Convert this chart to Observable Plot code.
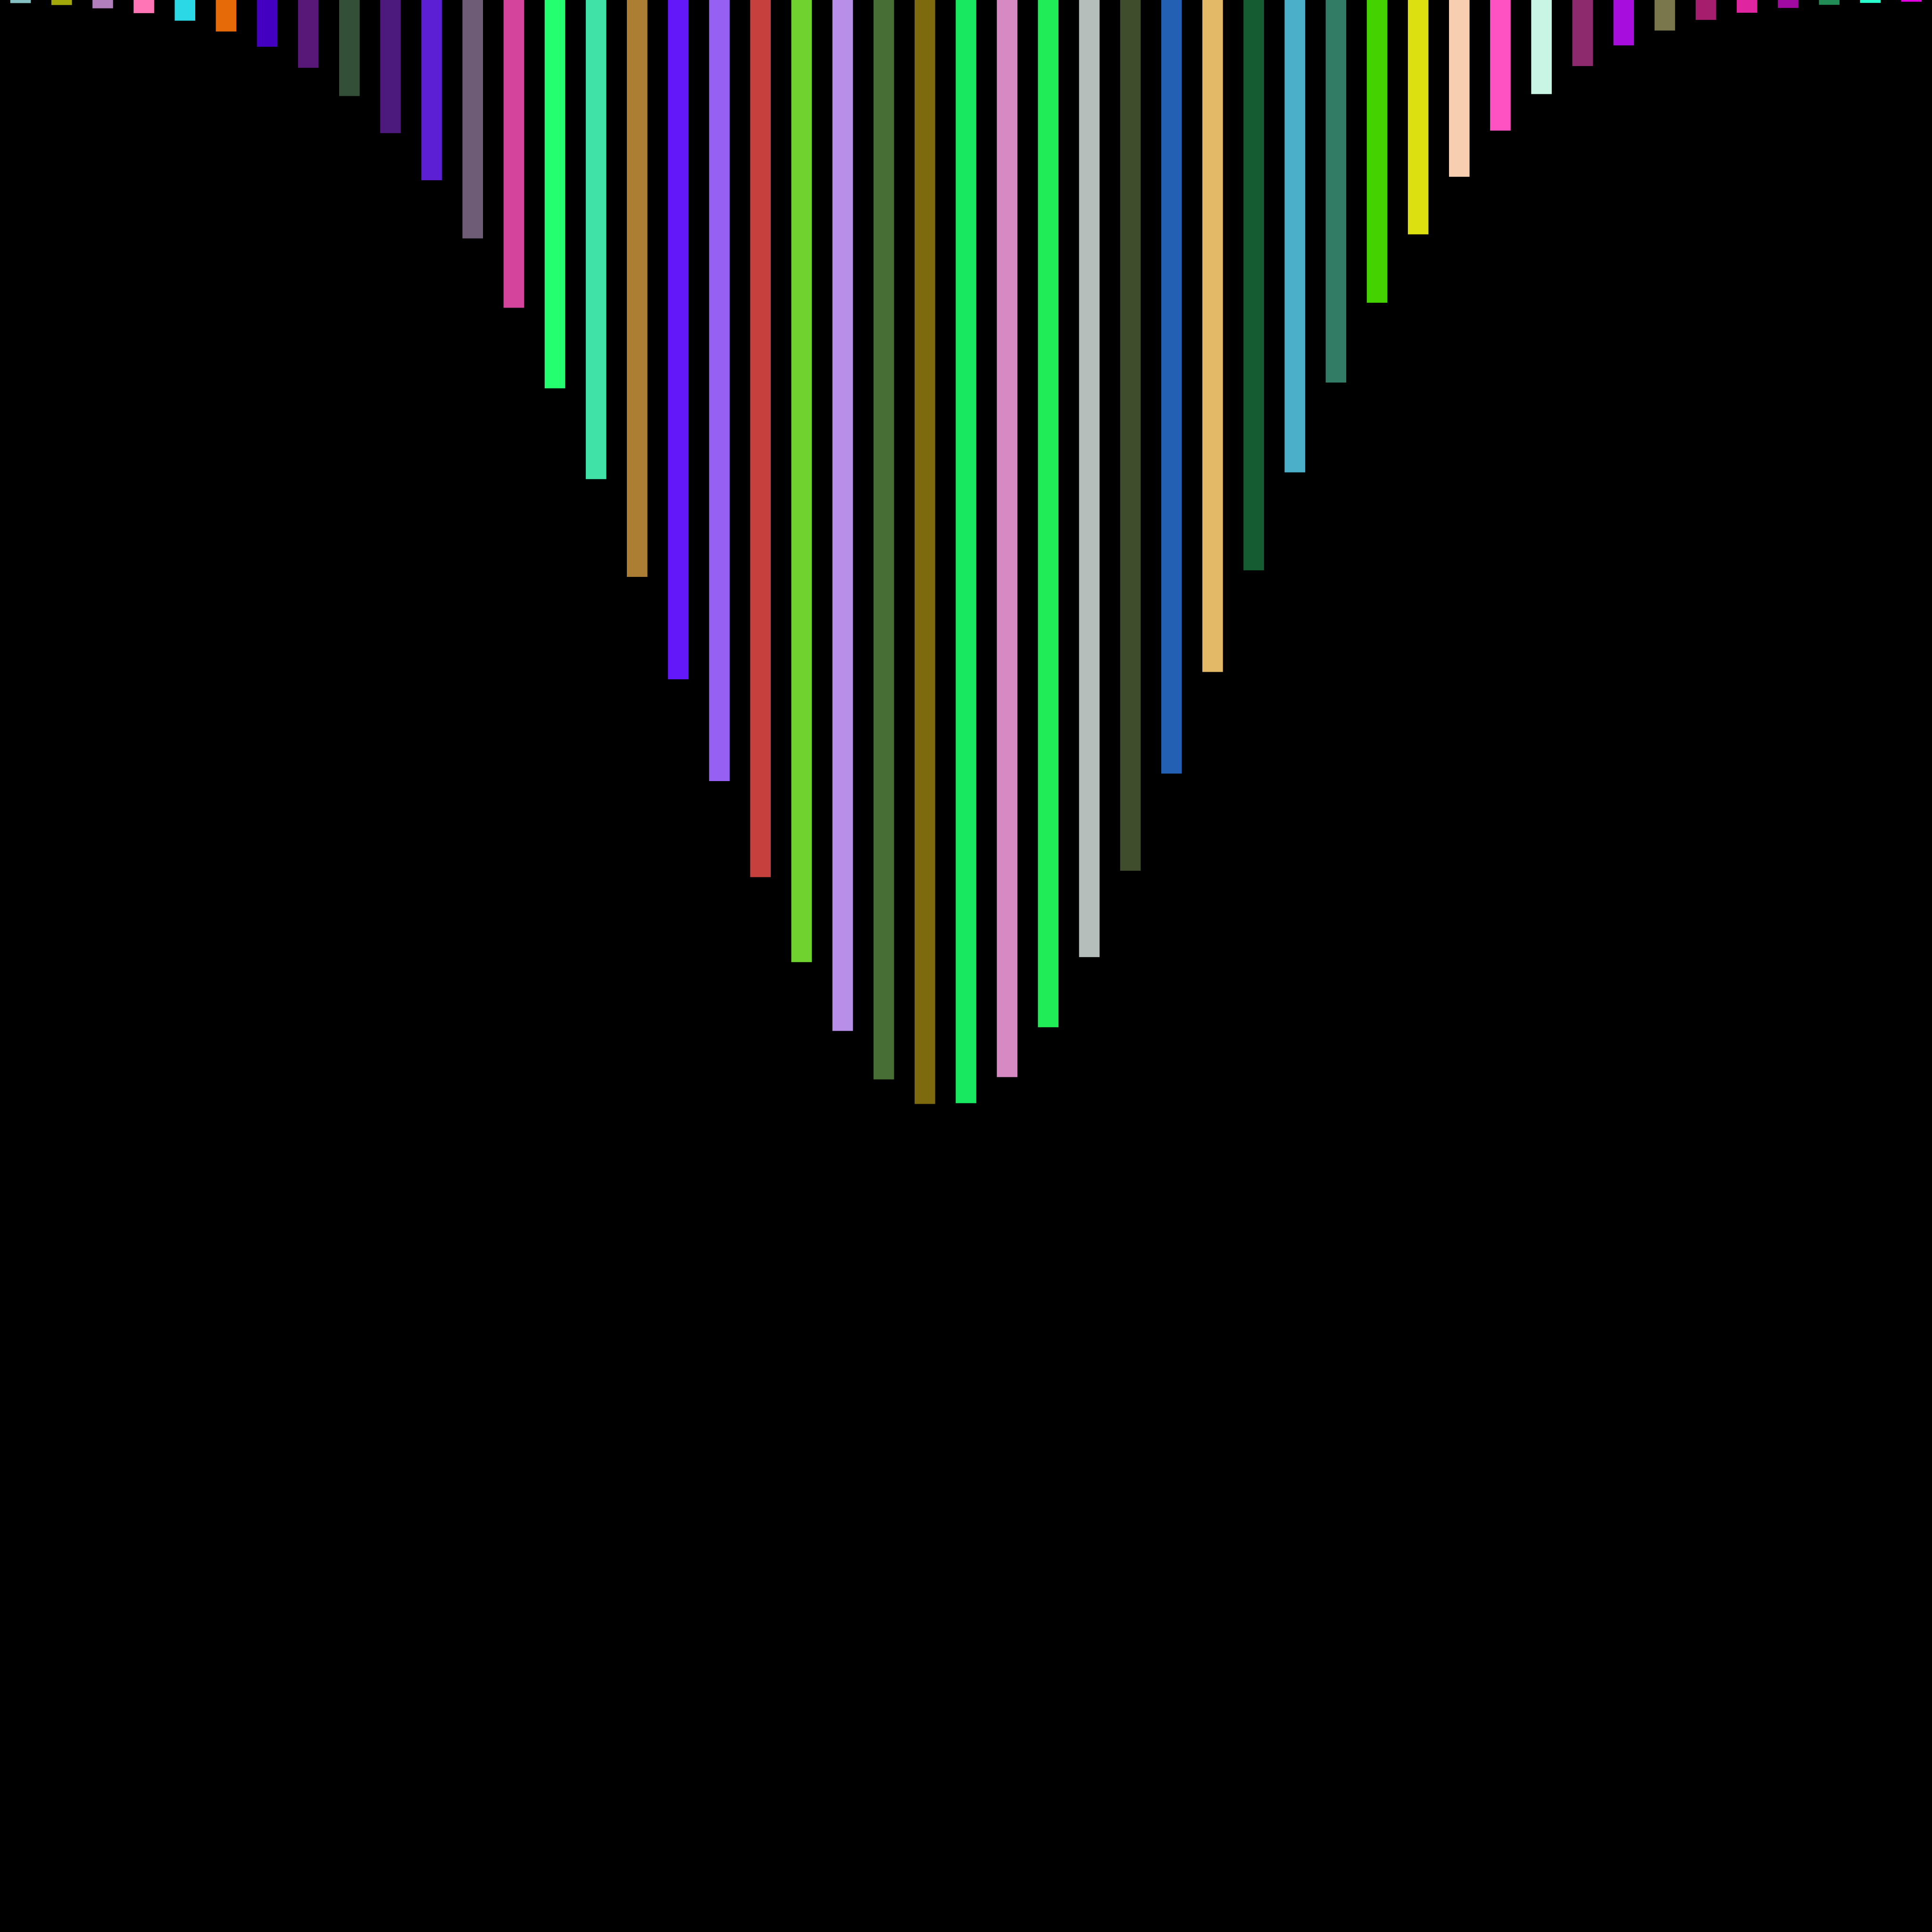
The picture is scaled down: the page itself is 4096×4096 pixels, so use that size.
<!DOCTYPE html>
<html>
<head>
<meta charset="utf-8">
<script src="https://cdn.jsdelivr.net/npm/d3@7"></script>
<script src="https://cdn.jsdelivr.net/npm/@observablehq/plot@0.6"></script>
<style>
  html, body { margin: 0; padding: 0; background: #000; }
  #chart svg { display: block; }
</style>
</head>
<body>
<div id="chart"></div>
<script>
const categories = [
  "b01","b02","b03","b04","b05","b06","b07","b08","b09","b10",
  "b11","b12","b13","b14","b15","b16","b17","b18","b19","b20",
  "b21","b22","b23","b24","b25","b26","b27","b28","b29","b30",
  "b31","b32","b33","b34","b35","b36","b37","b38","b39","b40",
  "b41","b42","b43","b44","b45","b46","b47"
];
const values = [
  1.6, 2.6, 4.3, 6.8, 10.7, 16.3, 24.2, 35.1, 49.7, 68.9,
  93.3, 123.4, 159.3, 201.0, 248.0, 298.6, 351.6, 404.3, 454.0, 498.0,
  533.6, 558.7, 571.4, 571.0, 557.5, 531.7, 495.4, 450.7, 400.4, 347.8,
  295.2, 244.5, 198.0, 156.7, 121.3, 91.5, 67.6, 48.7, 34.2, 23.5,
  15.8, 10.3, 6.6, 4.1, 2.5, 1.5, 0.9
];
const colors = [
  "#85c1c2","#a3a80a","#b07fbc","#ff75b5","#2bd8e6","#e66a08","#4400c0","#571878","#344f38","#4c1a7c",
  "#5c1fd4","#6e5c77","#d4449c","#24ff70","#40e2a8","#ac7e34","#6218f8","#9660f2","#c6403e","#6fd22e",
  "#b78ee8","#476e35","#7e6a0e","#18e860","#d789c4","#20ec58","#b6bebc","#3f4d2d","#2360b4","#e3b866",
  "#155c33","#4cafca","#327b64","#44d200","#dde010","#f7ceb0","#ff52c2","#c8f5e4","#8d2a6d","#a70ede",
  "#7a774c","#a51e6e","#df26a0","#a10aa0","#228c56","#29ffcc","#e200e0"
];
const yDomain = [0, 1000];

const data = categories.map((c, i) => ({category: c, value: values[i]}));

const chart = Plot.plot({
  width: 4096,
  height: 4096,
  margin: 0,
  style: {background: "#000"},
  x: {domain: categories, paddingInner: 0.5, paddingOuter: 0.25, round: false, axis: null},
  y: {domain: yDomain, reverse: true, axis: null},
  color: {type: "ordinal", domain: categories, range: colors},
  marks: [
    Plot.barY(data, {x: "category", y: "value", fill: "category"})
  ]
});
document.getElementById("chart").appendChild(chart);
</script>
</body>
</html>
